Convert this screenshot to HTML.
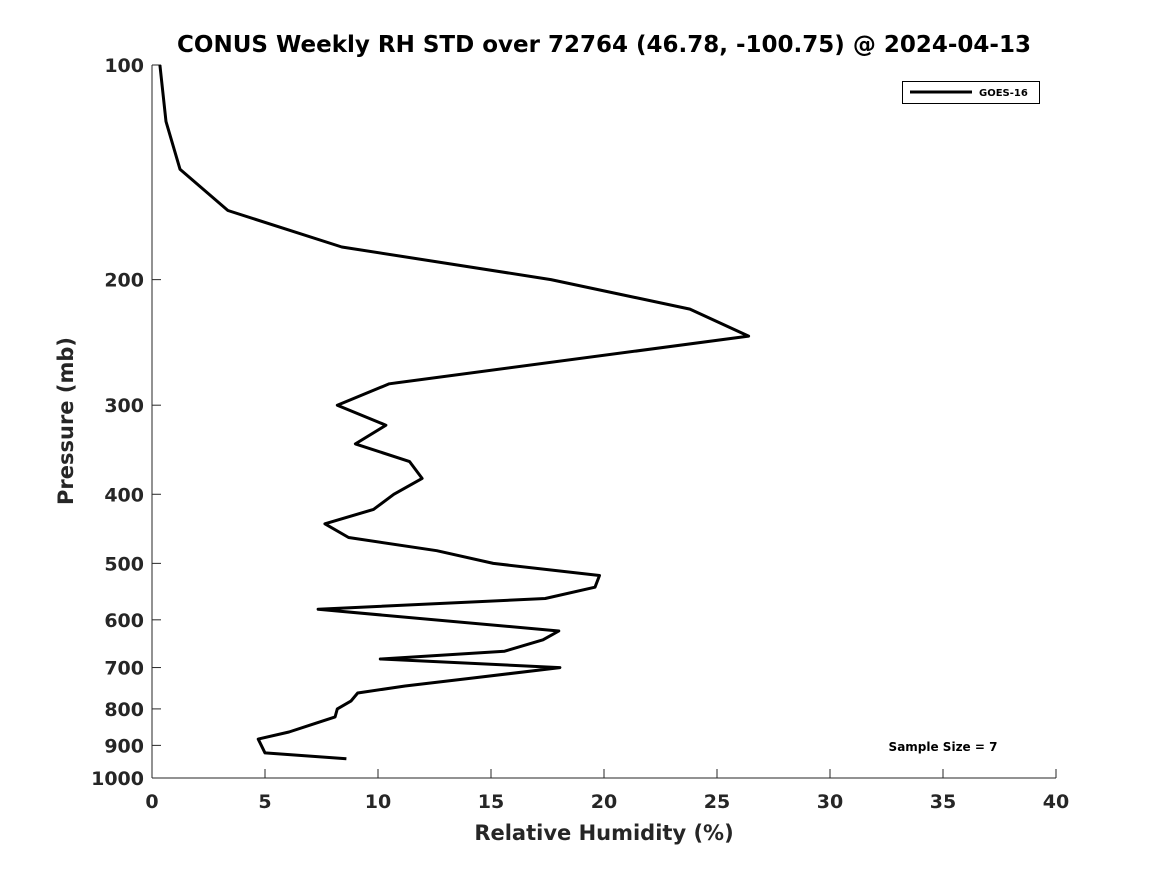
<!DOCTYPE html>
<html><head><meta charset="utf-8"><style>body{margin:0;background:#fff}svg{display:block;font-family:"DejaVu Sans","Liberation Sans",sans-serif}</style></head>
<body>
<svg id="chart" width="1167" height="875" xmlns="http://www.w3.org/2000/svg">
<rect width="1167" height="875" fill="#fff"/>
<text x="604" y="52" text-anchor="middle" font-size="23" font-weight="bold">CONUS Weekly RH STD over 72764 (46.78, -100.75) @ 2024-04-13</text>
<g id="axes"></g>
<path id="line" fill="none" stroke="#000" stroke-width="3" stroke-linejoin="round"/>
<g>
<rect x="902.5" y="81.5" width="137" height="22" fill="#fff" stroke="#000" stroke-width="1"/>
<line x1="910" y1="92" x2="972" y2="92" stroke="#000" stroke-width="3"/>
<text x="979" y="96" font-size="10" font-weight="bold">GOES-16</text>
</g>
<text x="943" y="751" text-anchor="middle" font-size="12" font-weight="bold">Sample Size = 7</text>
<text x="604" y="840" text-anchor="middle" font-size="21" font-weight="bold" fill="#262626">Relative Humidity (%)</text>
<text transform="translate(73,421) rotate(-90)" text-anchor="middle" font-size="21" font-weight="bold" fill="#262626">Pressure (mb)</text>
</svg>
<script>
const rhValues=[0.35,0.62,1.24,3.36,8.4,17.65,23.8,26.4,10.5,8.2,10.35,9.0,11.4,11.95,10.7,9.8,7.65,8.7,12.6,15.1,19.8,19.6,17.4,7.35,18.0,17.3,15.6,10.1,18.05,14.2,11.2,9.1,8.8,8.2,8.1,7.0,6.06,4.7,5.0,8.6];
const pressures=[100,120,140,160,180,200,220,240,280,300,320,340,360,380,400,420,440,460,480,500,520,540,560,580,622,640,664,681,700,724,743,760,780,800,821,843,862,882,922,940];
const xTicks=[0,5,10,15,20,25,30,35,40];
const yTicks=[100,200,300,400,500,600,700,800,900,1000];
const X0=152,X1=1056,Y0=65,Y1=778;
const sx=v=>X0+(v-0)/40*(X1-X0);
const sy=p=>Y0+Math.log10(p/100)*(Y1-Y0);
const ns="http://www.w3.org/2000/svg",g=document.getElementById('axes');
function mk(t,a,txt){const e=document.createElementNS(ns,t);for(const k in a)e.setAttribute(k,a[k]);if(txt!=null)e.textContent=txt;g.appendChild(e);return e;}
const ax=mk('line',{x1:X0,y1:Y1,x2:X1,y2:Y1,stroke:'#262626','stroke-width':1});


const ay=mk('line',{x1:X0,y1:Y0,x2:X0,y2:Y1,stroke:'#262626','stroke-width':1});


xTicks.forEach(v=>{const x=sx(v);
mk('line',{x1:x,y1:Y1,x2:x,y2:Y1-9,stroke:'#262626'});
const t=mk('text',{x:x,y:808,'text-anchor':'middle','font-size':19,'font-weight':'bold',fill:'#262626'},String(v));

});
yTicks.forEach(p=>{const y=sy(p);
mk('line',{x1:X0,y1:y,x2:X0+9,y2:y,stroke:'#262626'});
const t=mk('text',{x:144,y:y+7,'text-anchor':'end','font-size':19,'font-weight':'bold',fill:'#262626'},String(p));

});
document.getElementById('line').setAttribute('d',rhValues.map((v,i)=>(i?'L':'M')+sx(v).toFixed(1)+','+sy(pressures[i]).toFixed(1)).join(''));
</script>
</body></html>
